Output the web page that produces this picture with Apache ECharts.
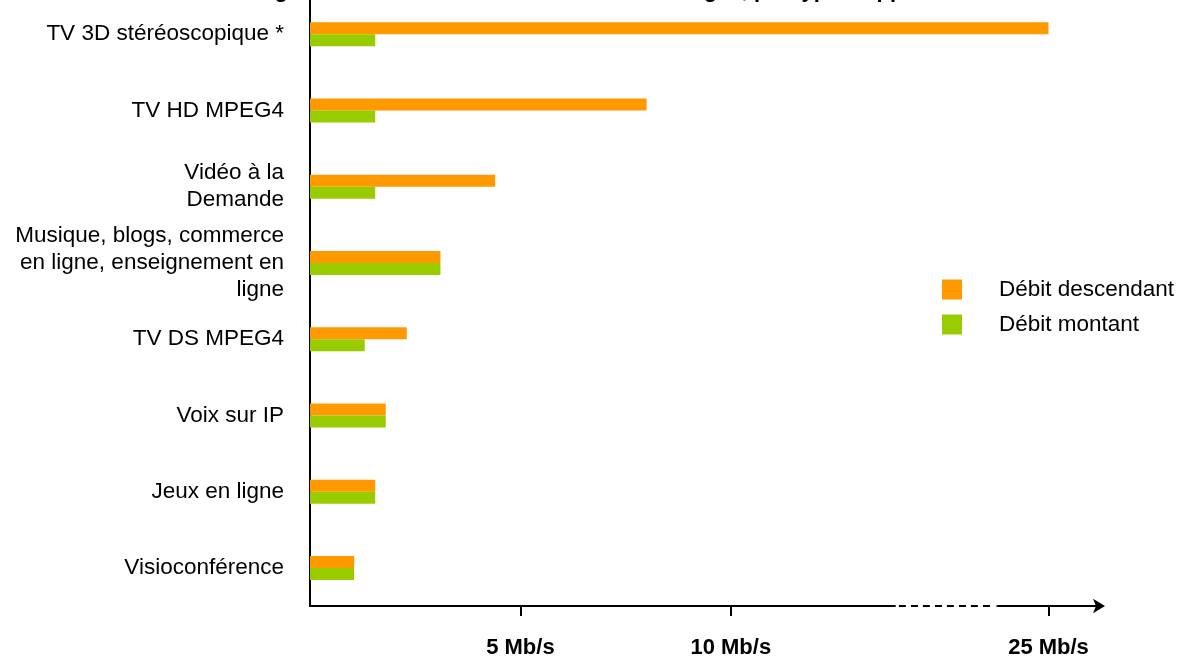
<!DOCTYPE html>
<html>
<head>
<meta charset="utf-8">
<script src="https://cdn.jsdelivr.net/npm/echarts@6/dist/echarts.min.js"></script>
<style>
  html, body { margin: 0; padding: 0; background: #fff; }
  #chart { width: 1180px; height: 657px; }
</style>
</head>
<body>
<div id="chart"></div>
<script>
var categories = ['TV 3D stéréoscopique *', 'TV HD MPEG4', 'Vidéo à la\nDemande',
  'Musique, blogs, commerce\nen ligne, enseignement en\nligne', 'TV DS MPEG4',
  'Voix sur IP', 'Jeux en ligne', 'Visioconférence'];
var debitDescendant = [25, 8, 4.4, 3.1, 2.3, 1.8, 1.55, 1.05];
var debitMontant = [1.55, 1.55, 1.55, 3.1, 1.3, 1.8, 1.55, 1.05];
var tickValues = [5, 10, 25];
// axe coupé entre ces deux valeurs
var breakStart = 13.9, breakEnd = 23.8;

var chart = echarts.init(document.getElementById('chart'));
var gridBottom = 51;

var option = {
  animation: false,
  textStyle: { fontFamily: 'Liberation Sans, Arial, sans-serif' },
  title: {
    text: 'Figure 2 : Débits nécessaires selon les usages, par type d\'application',
    left: 250,
    top: -25,
    textStyle: { fontSize: 22, fontWeight: 'bold', color: '#000' }
  },
  legend: {
    orient: 'vertical',
    left: 942,
    top: 278,
    padding: 0,
    itemWidth: 20,
    itemHeight: 20,
    itemGap: 12,
    icon: 'rect',
    textStyle: { fontSize: 22.5, color: '#000', padding: [0, 0, 0, 32] },
    data: ['Débit descendant', 'Débit montant']
  },
  grid: { left: 310, right: 81, top: -4, bottom: gridBottom, outerBoundsMode: 'none' },
  xAxis: {
    type: 'value',
    min: 0,
    max: 26.2,
    breaks: [{ start: breakStart, end: breakEnd, gap: 2.45 }],
    breakArea: { show: false },
    splitLine: { show: false },
    axisLine: {
      show: true,
      symbol: ['none', 'arrow'],
      symbolSize: [11, 12],
      symbolOffset: [0, 6],
      lineStyle: { color: '#000', width: 2 }
    },
    axisTick: { show: true, customValues: tickValues, length: 10, lineStyle: { color: '#000', width: 2 } },
    axisLabel: {
      customValues: tickValues,
      formatter: function (v) { return v + ' Mb/s'; },
      fontSize: 22,
      fontWeight: 'bold',
      color: '#000',
      margin: 31
    }
  },
  yAxis: {
    type: 'category',
    inverse: true,
    data: categories,
    axisLine: { show: true, lineStyle: { color: '#000', width: 2 } },
    axisTick: { show: false },
    axisLabel: { fontSize: 22.5, color: '#000', margin: 26, lineHeight: 27, align: 'right' }
  },
  series: [
    {
      name: 'Débit descendant',
      type: 'bar',
      data: debitDescendant,
      barWidth: 12,
      barGap: '0%',
      itemStyle: { color: '#FF9900' }
    },
    {
      name: 'Débit montant',
      type: 'bar',
      data: debitMontant,
      barWidth: 12,
      barGap: '0%',
      itemStyle: { color: '#99CC00' }
    }
  ]
};
chart.setOption(option);

// partie pointillée de l'axe dans la zone coupée
var x1 = chart.convertToPixel({ xAxisIndex: 0 }, breakStart);
var x2 = chart.convertToPixel({ xAxisIndex: 0 }, breakEnd);
var yAxe = 657 - gridBottom;
chart.setOption({
  graphic: [
    {
      type: 'rect', z: 100,
      shape: { x: x1 + 1, y: yAxe - 3, width: x2 - x1 - 3, height: 6 },
      style: { fill: '#fff' }
    },
    {
      type: 'line', z: 101,
      shape: { x1: x1 + 4, y1: yAxe, x2: x2 - 6, y2: yAxe },
      style: { stroke: '#000', lineWidth: 2, lineDash: [7, 5] }
    },
    {
      type: 'line', z: 101,
      shape: { x1: x2 - 2, y1: yAxe, x2: x2 + 2, y2: yAxe },
      style: { stroke: '#000', lineWidth: 1 }
    }
  ]
});
</script>
</body>
</html>
